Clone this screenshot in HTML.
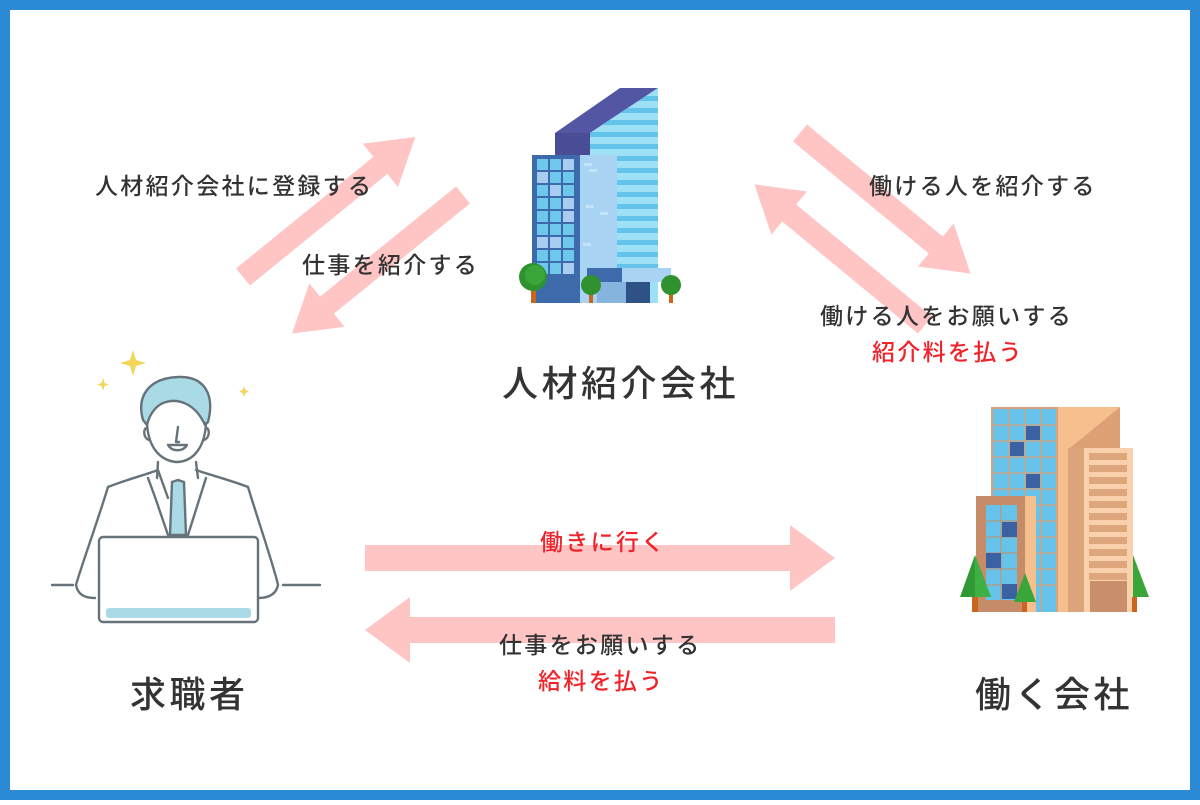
<!DOCTYPE html>
<html><head><meta charset="utf-8"><style>
html,body{margin:0;padding:0;}
body{width:1200px;height:800px;overflow:hidden;background:#fff;}
svg text{font-family:"Liberation Sans","Noto Sans CJK JP",sans-serif;font-weight:500;}
</style></head><body>
<svg width="1200" height="800" viewBox="0 0 1200 800" xmlns="http://www.w3.org/2000/svg">
<rect x="0" y="0" width="1200" height="800" fill="#2a8ad4"/>
<rect x="10" y="10" width="1180" height="780" fill="#fff"/>

<!-- arrows -->
<g fill="#ffc5c5">
<g transform="translate(243,277) rotate(-39.1)"><polygon points="0,-11 177,-11 177,-28 222,0 177,28 177,11 0,11"/></g>
<g transform="translate(463,195) rotate(141)"><polygon points="0,-11 175,-11 175,-28 220,0 175,28 175,11 0,11"/></g>
<g transform="translate(800,133) rotate(39.5)"><polygon points="0,-11 176,-11 176,-28 221,0 176,28 176,11 0,11"/></g>
<g transform="translate(925,325) rotate(-140.5)"><polygon points="0,-11 176,-11 176,-28 221,0 176,28 176,11 0,11"/></g>
<polygon points="365,545 790,545 790,525 835,558 790,591 790,571 365,571"/>
<polygon points="835,617 410,617 410,597 365,630 410,663 410,643 835,643"/>
</g>

<!-- texts -->
<g fill="#333" font-size="23" letter-spacing="2.3">
<text x="95" y="194">人材紹介会社に登録する</text>
<text x="302" y="273">仕事を紹介する</text>
<text x="869" y="194">働ける人を紹介する</text>
<text x="820" y="324">働ける人をお願いする</text>
<text x="499" y="653">仕事をお願いする</text>
</g>
<g fill="#f0232a" font-size="23" letter-spacing="2.3">
<text x="872" y="360">紹介料を払う</text>
<text x="540" y="550">働きに行く</text>
<text x="538" y="689">給料を払う</text>
</g>
<g fill="#333" font-size="36" letter-spacing="3.5">
<text x="502" y="396">人材紹介会社</text>
<text x="130" y="707">求職者</text>
<text x="975" y="707">働く会社</text>
</g>

<!-- top building -->
<g>
<polygon points="555,133 620,88 658,88 590,133" fill="#5356a3"/>
<rect x="555" y="133" width="35" height="22" fill="#4a4d96"/>
<clipPath id="tw"><polygon points="590,133 658,88 658,303 590,303"/></clipPath>
<g clip-path="url(#tw)">
<rect x="590" y="88" width="68" height="215" fill="#9ee0f5"/>
<g fill="#64c3eb">
<rect x="590" y="96" width="68" height="5"/><rect x="590" y="108" width="68" height="5"/><rect x="590" y="120" width="68" height="5"/><rect x="590" y="132" width="68" height="5"/><rect x="590" y="144" width="68" height="5"/><rect x="590" y="156" width="68" height="5"/><rect x="590" y="168" width="68" height="5"/><rect x="590" y="180" width="68" height="5"/><rect x="590" y="192" width="68" height="5"/><rect x="590" y="204" width="68" height="5"/><rect x="590" y="216" width="68" height="5"/><rect x="590" y="228" width="68" height="5"/><rect x="590" y="240" width="68" height="5"/><rect x="590" y="252" width="68" height="5"/><rect x="590" y="264" width="68" height="5"/>
</g>
</g>
<rect x="580" y="155" width="37" height="148" fill="#a8d3f3"/>
<g fill="#c2e4f8"><rect x="584" y="163" width="8" height="3"/><rect x="589" y="169" width="8" height="3"/><rect x="586" y="205" width="8" height="3"/><rect x="600" y="212" width="8" height="3"/><rect x="583" y="243" width="8" height="3"/></g>
<rect x="532" y="155" width="48" height="148" fill="#3d6aab"/>
<g fill="#6ec8ec">
<rect x="537" y="159" width="11" height="11"/><rect x="550" y="159" width="11" height="11"/><rect x="563" y="159" width="11" height="11" fill="#a8cdf0"/>
<rect x="537" y="172" width="11" height="11" fill="#a8cdf0"/><rect x="550" y="172" width="11" height="11"/><rect x="563" y="172" width="11" height="11"/>
<rect x="537" y="185" width="11" height="11"/><rect x="550" y="185" width="11" height="11" fill="#a8cdf0"/><rect x="563" y="185" width="11" height="11"/>
<rect x="537" y="198" width="11" height="11"/><rect x="550" y="198" width="11" height="11"/><rect x="563" y="198" width="11" height="11" fill="#a8cdf0"/>
<rect x="537" y="211" width="11" height="11"/><rect x="550" y="211" width="11" height="11"/><rect x="563" y="211" width="11" height="11" fill="#a8cdf0"/>
<rect x="537" y="224" width="11" height="11"/><rect x="550" y="224" width="11" height="11"/><rect x="563" y="224" width="11" height="11"/>
<rect x="537" y="237" width="11" height="11" fill="#a8cdf0"/><rect x="550" y="237" width="11" height="11" fill="#a8cdf0"/><rect x="563" y="237" width="11" height="11"/>
<rect x="537" y="250" width="11" height="11"/><rect x="550" y="250" width="11" height="11"/><rect x="563" y="250" width="11" height="11"/>
<rect x="537" y="263" width="11" height="11"/><rect x="550" y="263" width="11" height="11"/><rect x="563" y="263" width="11" height="11" fill="#a8cdf0"/>
</g>
<rect x="587" y="268" width="35" height="14" fill="#3d6aab"/>
<rect x="622" y="268" width="49" height="14" fill="#a8d3f3"/>
<rect x="597" y="282" width="30" height="21" fill="#85b4de"/>
<rect x="626" y="282" width="24" height="21" fill="#2e5286"/>
<rect x="531" y="288" width="5" height="15" fill="#c9651c"/>
<circle cx="533" cy="277" r="14" fill="#2f922f"/><circle cx="535" cy="275" r="10" fill="#3aa63a"/>
<rect x="589" y="292" width="4" height="11" fill="#c9651c"/>
<circle cx="591" cy="285" r="10" fill="#2f922f"/>
<rect x="669" y="290" width="4" height="13" fill="#c9651c"/>
<circle cx="671" cy="285" r="10" fill="#2f922f"/>
</g>

<!-- bottom-right building -->
<g>
<rect x="1058" y="407" width="62" height="205" fill="#f6c08e"/>
<polygon points="1070,448 1120,407 1120,448" fill="#dda077"/>
<rect x="991" y="407" width="67" height="205" fill="#d9a27a"/>
<rect x="993" y="409" width="63" height="203" fill="#67c3ea"/>
<g stroke="#d9a27a" stroke-width="1.2">
<line x1="1009" y1="409" x2="1009" y2="612"/><line x1="1025" y1="409" x2="1025" y2="612"/><line x1="1041" y1="409" x2="1041" y2="612"/>
<line x1="993" y1="425" x2="1056" y2="425"/><line x1="993" y1="441" x2="1056" y2="441"/><line x1="993" y1="457" x2="1056" y2="457"/><line x1="993" y1="473" x2="1056" y2="473"/><line x1="993" y1="489" x2="1056" y2="489"/><line x1="993" y1="505" x2="1056" y2="505"/><line x1="993" y1="521" x2="1056" y2="521"/><line x1="993" y1="537" x2="1056" y2="537"/><line x1="993" y1="553" x2="1056" y2="553"/><line x1="993" y1="569" x2="1056" y2="569"/><line x1="993" y1="585" x2="1056" y2="585"/>
</g>
<g fill="#3a62a2"><rect x="1026" y="426" width="14" height="14"/><rect x="1010" y="442" width="14" height="14"/><rect x="1026" y="474" width="14" height="14"/></g>
<rect x="1068" y="448" width="65" height="164" fill="#dca47a"/>
<rect x="1084" y="448" width="49" height="164" fill="#f9d2ad"/>
<g fill="#dda67c">
<rect x="1089" y="453" width="38" height="7"/><rect x="1089" y="465" width="38" height="7"/><rect x="1089" y="477" width="38" height="7"/><rect x="1089" y="489" width="38" height="7"/><rect x="1089" y="501" width="38" height="7"/><rect x="1089" y="513" width="38" height="7"/><rect x="1089" y="525" width="38" height="7"/><rect x="1089" y="537" width="38" height="7"/><rect x="1089" y="549" width="38" height="7"/><rect x="1089" y="561" width="38" height="7"/><rect x="1089" y="573" width="38" height="7"/>
</g>
<rect x="1090" y="581" width="37" height="31" fill="#c98e6a"/>
<rect x="976" y="496" width="60" height="116" fill="#c68c67"/>
<rect x="1025" y="496" width="11" height="116" fill="#f6c08e"/>
<rect x="986" y="505" width="31" height="95" fill="#67c3ea"/>
<g stroke="#c68c67" stroke-width="1"><line x1="1001" y1="505" x2="1001" y2="600"/><line x1="986" y1="521" x2="1017" y2="521"/><line x1="986" y1="537" x2="1017" y2="537"/><line x1="986" y1="553" x2="1017" y2="553"/><line x1="986" y1="569" x2="1017" y2="569"/><line x1="986" y1="585" x2="1017" y2="585"/></g>
<g fill="#3a62a2"><rect x="1002" y="522" width="15" height="15"/><rect x="986" y="553" width="15" height="15"/><rect x="1002" y="584" width="15" height="15"/></g>
<rect x="972" y="595" width="6" height="17" fill="#c9651c"/>
<polygon points="975,555 960,597 991,597" fill="#2f9a34"/><polygon points="975,555 975,597 991,597" fill="#3fb043"/>
<rect x="1022" y="600" width="5" height="12" fill="#c9651c"/>
<polygon points="1025,573 1014,602 1036,602" fill="#3aa63a"/>
<rect x="1132" y="597" width="5" height="15" fill="#c9651c"/>
<polygon points="1133,555 1133,597 1149,597" fill="#3aa63a"/>
</g>

<!-- person -->
<g fill="none" stroke="#66737a" stroke-width="2.4" stroke-linecap="round" stroke-linejoin="round">
<path d="M143,420 C136,395 150,378 178,377 C205,376 215,395 208,422 L205,425 C196,405 180,398 166,402 C158,404 150,412 147,425 Z" fill="#a9dae6"/>
<path d="M147,423 C148,445 158,460 176,462 C195,462 205,445 206,423"/>
<path d="M147,428 C143,428 143,438 149,440"/><path d="M206,428 C210,428 210,438 204,440"/>
<path d="M178,427 L176,442 L179,442"/>
<path d="M168,445 C172,452 183,452 187,445 Z" fill="#fff"/>
<path d="M158,462 L157,478 M196,462 L198,478"/>
<path d="M108,487 C125,480 145,475 158,470 L168,498 M196,470 C210,475 230,480 248,487"/>
<path d="M148,478 L155,497 L168,535 M206,478 L200,497 L188,535"/>
<path d="M108,487 C98,520 80,570 76,585 C78,595 85,598 95,598"/>
<path d="M248,487 C258,520 275,570 278,585 C276,595 268,598 258,598"/>
<path d="M172,482 L178,480 L184,482 L186,535 L170,535 Z" fill="#a9dae6"/>
<line x1="52" y1="585" x2="73" y2="585"/><line x1="283" y1="585" x2="320" y2="585"/>
<rect x="99" y="537" width="159" height="85" rx="4" fill="#fff"/>
</g>
<rect x="106" y="608" width="145" height="10" rx="3" fill="#a9dae6"/>
<g fill="#f3d55a">
<path d="M133,350 L136,360 L146,363 L136,366 L133,376 L130,366 L120,363 L130,360 Z"/>
<path d="M103,378 L104.5,383 L109,384.5 L104.5,386 L103,391 L101.5,386 L97,384.5 L101.5,383 Z"/>
<path d="M244,386 L245.5,390 L249,391.5 L245.5,393 L244,397 L242.5,393 L239,391.5 L242.5,390 Z"/>
</g>
</svg>
</body></html>
